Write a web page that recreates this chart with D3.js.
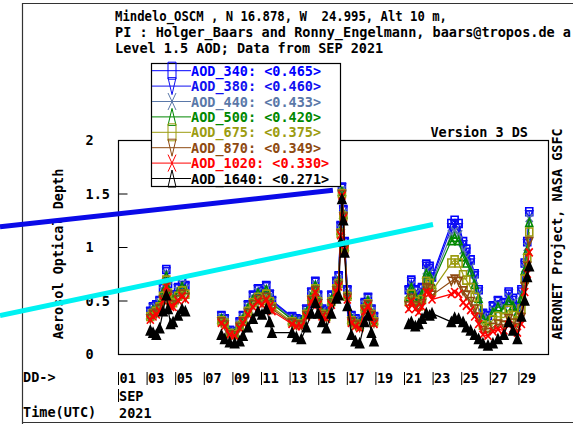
<!DOCTYPE html>
<html>
<head>
<meta charset="utf-8">
<script src="https://cdn.jsdelivr.net/npm/d3@7"></script>
<style>
  body { margin: 0; background: #fff; }
  text { font-family: "DejaVu Sans Mono", monospace; font-weight: bold; font-size: 13.5px; fill: #000; white-space: pre; }
</style>
</head>
<body>
<svg id="chart" width="573" height="424"></svg>
<script>
// measurement times, as day of month (Sep 2021, UTC)
const days = [
  3.26, 3.45, 3.68, 3.91, 4.15, 4.38, 4.50, 4.68, 4.85, 5.20, 5.48, 5.71,
  8.23, 8.46, 8.81, 9.16, 9.51, 9.74, 10.09, 10.44, 10.79, 11.07, 11.37, 11.61, 11.77,
  13.17, 13.47, 13.82, 14.17, 14.52, 14.80, 14.99, 15.27, 15.57, 15.92, 16.27, 16.43, 16.57, 16.66, 16.76, 16.85, 17.04, 17.32, 17.60, 17.90, 18.25, 18.48, 18.72, 18.90,
  21.33, 21.51, 21.79, 22.03, 22.26, 22.56, 22.79, 22.96,
  24.31, 24.54, 24.82, 25.13, 25.36, 25.66, 25.94, 26.22, 26.52, 26.87, 27.22, 27.57, 27.99, 28.32, 28.62, 28.93, 29.21, 29.44, 29.62, 29.76
];
const aod340 = [
  0.40, 0.44, 0.46, 0.50, 0.62, 0.79, 0.66, 0.55, 0.55, 0.62, 0.68, 0.64,
  0.36, 0.33, 0.22, 0.21, 0.30, 0.36, 0.46, 0.55, 0.61, 0.58, 0.64, 0.56, 0.50,
  0.35, 0.33, 0.32, 0.42, 0.58, 0.68, 0.55, 0.42, 0.40, 0.55, 0.68, 0.73, 1.20, 1.56, 1.35, 1.05, 0.60, 0.36, 0.33, 0.30, 0.48, 0.53, 0.42, 0.35,
  0.60, 0.69, 0.60, 0.55, 0.62, 0.84, 0.82, 0.72,
  1.22, 1.25, 1.22, 1.05, 0.98, 0.88, 0.75, 0.60, 0.38, 0.36, 0.45, 0.50, 0.48, 0.58, 0.52, 0.44, 0.60, 0.85, 1.05, 1.33
];
const aod380 = [
  0.39, 0.43, 0.45, 0.49, 0.61, 0.77, 0.65, 0.54, 0.54, 0.61, 0.67, 0.63,
  0.35, 0.32, 0.22, 0.21, 0.29, 0.35, 0.45, 0.54, 0.60, 0.57, 0.63, 0.55, 0.49,
  0.34, 0.32, 0.31, 0.41, 0.57, 0.67, 0.54, 0.41, 0.39, 0.54, 0.67, 0.72, 1.19, 1.55, 1.34, 1.04, 0.59, 0.35, 0.32, 0.29, 0.47, 0.52, 0.41, 0.34,
  0.59, 0.67, 0.59, 0.54, 0.61, 0.82, 0.80, 0.70,
  1.18, 1.21, 1.18, 1.02, 0.95, 0.85, 0.73, 0.58, 0.37, 0.35, 0.44, 0.49, 0.47, 0.56, 0.50, 0.43, 0.58, 0.83, 1.03, 1.30
];
const aod440 = [
  0.38, 0.42, 0.44, 0.48, 0.59, 0.75, 0.63, 0.52, 0.52, 0.59, 0.65, 0.61,
  0.34, 0.31, 0.21, 0.20, 0.28, 0.34, 0.44, 0.52, 0.58, 0.55, 0.61, 0.53, 0.48,
  0.33, 0.31, 0.30, 0.40, 0.55, 0.65, 0.52, 0.40, 0.38, 0.52, 0.65, 0.70, 1.17, 1.53, 1.32, 1.02, 0.57, 0.34, 0.31, 0.28, 0.46, 0.51, 0.40, 0.33,
  0.56, 0.64, 0.56, 0.51, 0.58, 0.78, 0.76, 0.67,
  1.12, 1.15, 1.12, 0.97, 0.90, 0.81, 0.69, 0.55, 0.35, 0.33, 0.41, 0.46, 0.44, 0.53, 0.48, 0.40, 0.55, 0.80, 1.00, 1.27
];
const aod500 = [
  0.37, 0.41, 0.43, 0.47, 0.58, 0.73, 0.61, 0.51, 0.51, 0.58, 0.63, 0.60,
  0.33, 0.31, 0.20, 0.19, 0.28, 0.33, 0.43, 0.51, 0.57, 0.54, 0.60, 0.52, 0.47,
  0.32, 0.30, 0.30, 0.39, 0.54, 0.64, 0.51, 0.39, 0.37, 0.51, 0.64, 0.69, 1.16, 1.52, 1.31, 1.01, 0.56, 0.33, 0.30, 0.28, 0.45, 0.50, 0.39, 0.32,
  0.54, 0.62, 0.54, 0.49, 0.56, 0.75, 0.73, 0.65,
  1.06, 1.09, 1.06, 0.91, 0.85, 0.77, 0.65, 0.52, 0.33, 0.31, 0.39, 0.44, 0.42, 0.50, 0.45, 0.38, 0.52, 0.78, 0.97, 1.23
];
const aod675 = [
  0.35, 0.38, 0.40, 0.44, 0.54, 0.69, 0.57, 0.48, 0.48, 0.54, 0.59, 0.56,
  0.31, 0.29, 0.19, 0.18, 0.26, 0.31, 0.40, 0.48, 0.53, 0.50, 0.56, 0.49, 0.44,
  0.30, 0.28, 0.28, 0.37, 0.51, 0.61, 0.49, 0.37, 0.35, 0.49, 0.61, 0.66, 1.13, 1.50, 1.29, 0.99, 0.54, 0.31, 0.28, 0.26, 0.42, 0.47, 0.37, 0.30,
  0.49, 0.56, 0.49, 0.45, 0.51, 0.68, 0.66, 0.59,
  0.85, 0.88, 0.85, 0.74, 0.69, 0.62, 0.53, 0.42, 0.27, 0.25, 0.32, 0.35, 0.34, 0.41, 0.36, 0.31, 0.42, 0.70, 0.90, 1.14
];
const aod870 = [
  0.33, 0.37, 0.38, 0.42, 0.51, 0.66, 0.55, 0.46, 0.46, 0.51, 0.56, 0.53,
  0.30, 0.27, 0.18, 0.17, 0.25, 0.30, 0.38, 0.46, 0.51, 0.48, 0.53, 0.46, 0.42,
  0.29, 0.27, 0.27, 0.36, 0.50, 0.59, 0.47, 0.36, 0.34, 0.47, 0.59, 0.64, 1.12, 1.49, 1.28, 0.98, 0.52, 0.30, 0.27, 0.25, 0.41, 0.46, 0.36, 0.29,
  0.45, 0.52, 0.45, 0.42, 0.47, 0.62, 0.61, 0.55,
  0.68, 0.70, 0.68, 0.59, 0.55, 0.49, 0.42, 0.34, 0.22, 0.20, 0.25, 0.28, 0.27, 0.33, 0.29, 0.25, 0.34, 0.63, 0.82, 1.05
];
const aod1020 = [
  0.32, 0.35, 0.37, 0.40, 0.50, 0.63, 0.53, 0.44, 0.44, 0.50, 0.54, 0.51,
  0.29, 0.26, 0.18, 0.17, 0.24, 0.29, 0.37, 0.44, 0.49, 0.46, 0.51, 0.45, 0.40,
  0.28, 0.26, 0.26, 0.35, 0.49, 0.58, 0.46, 0.35, 0.33, 0.46, 0.58, 0.63, 1.11, 1.48, 1.27, 0.97, 0.51, 0.29, 0.26, 0.24, 0.40, 0.45, 0.35, 0.28,
  0.42, 0.49, 0.42, 0.39, 0.44, 0.58, 0.57, 0.51,
  0.56, 0.58, 0.56, 0.48, 0.45, 0.41, 0.35, 0.28, 0.18, 0.17, 0.21, 0.23, 0.22, 0.27, 0.24, 0.20, 0.28, 0.58, 0.75, 0.95
];
const aod1640 = [
  0.22, 0.20, 0.18, 0.24, 0.40, 0.55, 0.42, 0.28, 0.30, 0.36, 0.42, 0.40,
  0.18, 0.14, 0.11, 0.10, 0.12, 0.17, 0.25, 0.33, 0.40, 0.37, 0.42, 0.30, 0.20,
  0.20, 0.16, 0.14, 0.25, 0.38, 0.48, 0.38, 0.30, 0.24, 0.38, 0.52, 0.55, 1.05, 1.45, 1.25, 0.95, 0.45, 0.18, 0.12, 0.10, 0.30, 0.36, 0.20, 0.12,
  0.28, 0.30, 0.26, 0.28, 0.33, 0.38, 0.36, 0.38,
  0.30, 0.34, 0.33, 0.30, 0.25, 0.22, 0.18, 0.14, 0.10, 0.08, 0.10, 0.14, 0.18, 0.30, 0.22, 0.14, 0.35, 0.50, 0.72, 0.82
];

const wavelengths = ["340", "380", "440", "500", "675", "870", "1020", "1640"];
const monthMeans = ["0.465", "0.460", "0.433", "0.420", "0.375", "0.349", "0.330", "0.271"];
const series = [aod340, aod380, aod440, aod500, aod675, aod870, aod1020, aod1640];
const colors = ["#0000ff", "#1010f0", "#5a78a8", "#008800", "#9c9c10", "#8e4a12", "#ff0000", "#000000"];
const shapes = ["square", "down", "x", "up", "square", "down", "x", "up"];

const dayTicks = [1, 3, 5, 7, 9, 11, 13, 15, 17, 19, 21, 23, 25, 27, 29];
const aodTicks = [0, 0.5, 1, 1.5, 2];
// line 2 is cut by the picture's right edge in the original
const titleLines = [
  "Mindelo_OSCM , N 16.878, W  24.995, Alt 10 m,",
  "PI : Holger_Baars and Ronny_Engelmann, baars@tropos.de a",
  "Level 1.5 AOD; Data from SEP 2021"
];

// the two hand-drawn strokes over the picture, in (day, AOD)
const blueStroke = [[-7.25, 1.19], [16.03, 1.53]];
const cyanStroke = [[-7.25, 0.36], [23.03, 1.21]];

const svg = d3.select("#chart");
const plot = { left: 118, right: 548, top: 140, bottom: 354 };

const x = d3.scaleLinear().domain([1, 31]).range([plot.left, plot.left + 429]);
const y = d3.scaleLinear().domain([0, 2]).range([plot.bottom, plot.top]);

function markerPath(shape, w, h) {
  const a = w / 2, b = h / 2;
  if (shape === "square") return `M${-a},${-b}H${a}V${b}H${-a}Z`;
  if (shape === "up") return `M0,${-b}L${a},${b}L${-a},${b}Z`;
  if (shape === "down") return `M0,${b}L${a},${-b}L${-a},${-b}Z`;
  return `M${-a},${-b}L${a},${b}M${a},${-b}L${-a},${b}`;
}

// outer frame (left, top, bottom)
svg.append("path")
  .attr("d", "M22.5,424V3.5H573M22,422.5H573")
  .attr("fill", "none")
  .attr("stroke", "#333")
  .attr("stroke-width", 1.2);

// the bitmap font of the original has narrow punctuation, so line 1 is squeezed
svg.append("g").selectAll("text")
  .data(titleLines)
  .enter().append("text")
    .attr("x", 115)
    .attr("y", (d, i) => 21 + i * 16.2)
    .attr("textLength", (d, i) => i === 0 ? 332 : (i === 1 ? 456 : null))
    .attr("lengthAdjust", "spacingAndGlyphs")
    .text(d => d);

svg.append("rect")
  .attr("x", plot.left + 0.5).attr("y", plot.top + 0.5)
  .attr("width", plot.right - plot.left).attr("height", plot.bottom - plot.top)
  .attr("fill", "none").attr("stroke", "#000").attr("stroke-width", 1.2);

// y axis, ticks pointing inwards
const yAxis = svg.append("g")
  .attr("transform", `translate(${plot.left + 0.5},0)`)
  .call(d3.axisLeft(y).tickValues(aodTicks).tickSize(-9).tickFormat(d => String(d)));
yAxis.select(".domain").remove();
yAxis.selectAll("text")
  .attr("text-anchor", "start")
  .attr("x", -33)
  .attr("dy", "0.36em");

// x axis: day labels sit to the right of their tick
const xAxis = svg.append("g")
  .attr("transform", "translate(0,372)")
  .call(d3.axisBottom(x).tickValues(dayTicks).tickSize(13).tickFormat(d3.format("02d")));
xAxis.select(".domain").remove();
xAxis.selectAll("text")
  .attr("text-anchor", "start")
  .attr("x", 1)
  .attr("y", 11)
  .attr("dy", null);

svg.append("line")
  .attr("x1", x(1) + 0.5).attr("x2", x(1) + 0.5)
  .attr("y1", 389).attr("y2", 402)
  .attr("stroke", "#000");
svg.append("text").attr("x", x(1) + 1).attr("y", 401).text("SEP");
svg.append("text").attr("x", x(1) + 1).attr("y", 418).text("2021");
svg.append("text").attr("x", 23).attr("y", 382).text("DD->");
svg.append("text").attr("x", 23).attr("y", 417).text("Time(UTC)");
svg.append("text").attr("x", 528).attr("y", 137).attr("text-anchor", "end").text("Version 3 DS");

svg.append("text")
  .attr("transform", "translate(63,254) rotate(-90)")
  .attr("text-anchor", "middle")
  .text("Aerosol Optical Depth");
svg.append("text")
  .attr("transform", "translate(562,234) rotate(-90)")
  .attr("text-anchor", "middle")
  .text("AERONET Project, NASA GSFC");

// split the series where there is more than a day without data
function segments(values) {
  const out = [];
  let current = [];
  days.forEach((d, i) => {
    if (current.length && d - days[i - 1] > 1.5) {
      out.push(current);
      current = [];
    }
    current.push([d, values[i]]);
  });
  out.push(current);
  return out;
}

const line = d3.line().x(d => x(d[0])).y(d => y(d[1]));

series.forEach((values, k) => {
  const g = svg.append("g").attr("class", "series-" + wavelengths[k]);
  g.selectAll("path.trace")
    .data(segments(values))
    .enter().append("path")
      .attr("class", "trace")
      .attr("d", line)
      .attr("fill", "none")
      .attr("stroke", colors[k])
      .attr("stroke-width", 1.2);
  g.selectAll("path.mark")
    .data(days.map((d, i) => [d, values[i]]))
    .enter().append("path")
      .attr("class", "mark")
      .attr("transform", d => `translate(${x(d[0])},${y(d[1])})`)
      .attr("d", k === 7 ? markerPath("up", 8, 9) : markerPath(shapes[k], 7, 8))
      .attr("fill", k === 7 ? "#000" : "none")
      .attr("stroke", colors[k])
      .attr("stroke-width", 1.6);
});

// legend
const legend = svg.append("g").attr("transform", "translate(151,63)");
legend.append("rect")
  .attr("x", 0.5).attr("y", 0.5)
  .attr("width", 189).attr("height", 123)
  .attr("fill", "#fff").attr("stroke", "#000").attr("stroke-width", 1.2);
const rows = legend.selectAll("g.row")
  .data(wavelengths)
  .enter().append("g")
    .attr("class", "row")
    .attr("transform", (d, i) => `translate(0,${7.7 + i * 15.4})`);
rows.append("line")
  .attr("x1", 1).attr("x2", 40)
  .attr("stroke", (d, i) => colors[i]);
rows.append("path")
  .attr("transform", "translate(21,0)")
  .attr("d", (d, i) => markerPath(shapes[i], 8, 17))
  .attr("fill", "none")
  .attr("stroke", (d, i) => colors[i]);
rows.append("text")
  .attr("x", 40)
  .attr("y", 5)
  .style("fill", (d, i) => colors[i])
  .text((d, i) => `AOD_${d}: <${monthMeans[i]}>`);

// strokes drawn over the finished plot
const strokeLine = d3.line().x(d => x(d[0])).y(d => y(d[1]));
svg.append("path")
  .attr("d", strokeLine(blueStroke))
  .attr("stroke", "#0a0ae8").attr("stroke-width", 5).attr("fill", "none");
svg.append("path")
  .attr("d", strokeLine(cyanStroke))
  .attr("stroke", "#00f2f2").attr("stroke-width", 5).attr("fill", "none");
</script>
</body>
</html>
